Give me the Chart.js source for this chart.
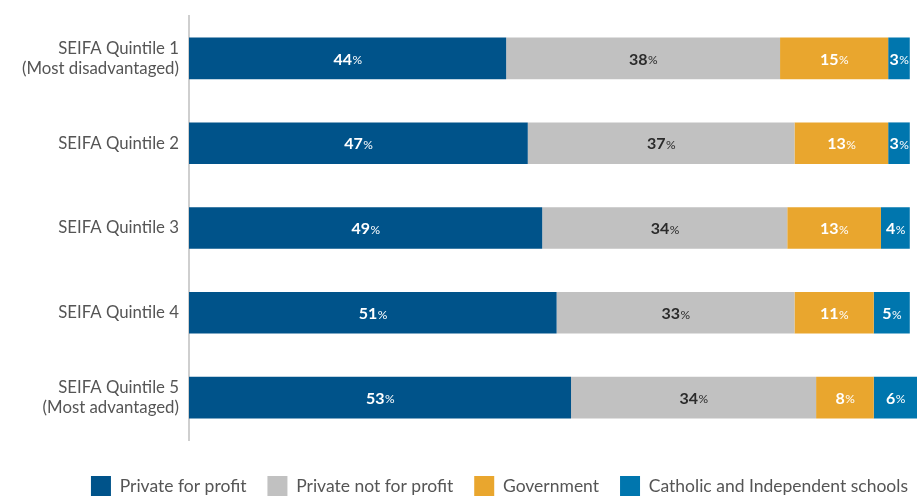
<!DOCTYPE html>
<html>
<head>
<meta charset="utf-8">
<script src="https://cdn.jsdelivr.net/npm/chart.js@4"></script>
<style>
  html, body { margin: 0; padding: 0; background: #fff; overflow: hidden; }
  #wrap { width: 918px; height: 496px; overflow: hidden; }
</style>
</head>
<body>
<div id="wrap"><canvas id="chart" width="918" height="506"></canvas></div>
<script>
// categories (y axis)
const categories = [
  ['SEIFA Quintile 1', '(Most disadvantaged)'],
  'SEIFA Quintile 2',
  'SEIFA Quintile 3',
  'SEIFA Quintile 4',
  ['SEIFA Quintile 5', '(Most advantaged)']
];

// series values (%)
const privateForProfit = [44, 47, 49, 51, 53];
const privateNotForProfit = [38, 37, 34, 33, 34];
const government = [15, 13, 13, 11, 8];
const catholicIndependent = [3, 3, 4, 5, 6];

const seriesNames = ['Private for profit', 'Private not for profit', 'Government', 'Catholic and Independent schools'];
const seriesColors = ['#00538a', '#c1c1c1', '#e9a62e', '#0076ae'];
const labelColors = ['#ffffff', '#2b2b2b', '#ffffff', '#ffffff'];

const FONT = 'Lato, "Open Sans", sans-serif';

// ========== SEGMENT LABELS ==========
const segmentLabels = {
  id: 'segmentLabels',
  afterDatasetsDraw(chart) {
    const ctx = chart.ctx;
    ctx.save();
    ctx.textBaseline = 'middle';
    ctx.textAlign = 'left';
    chart.data.datasets.forEach((ds, i) => {
      const meta = chart.getDatasetMeta(i);
      meta.data.forEach((bar, j) => {
        const num = String(ds.data[j]);
        const cx = (bar.x + bar.base) / 2;
        ctx.font = `bold 16px ${FONT}`;
        const w1 = ctx.measureText(num).width;
        ctx.font = `12px ${FONT}`;
        const w2 = ctx.measureText('%').width;
        const start = cx - (w1 + w2) / 2;
        ctx.fillStyle = labelColors[i];
        ctx.font = `bold 16px ${FONT}`;
        ctx.fillText(num, start, bar.y + 1);
        ctx.font = `12px ${FONT}`;
        ctx.fillText('%', start + w1 + 0.5, bar.y + 2);
      });
    });
    ctx.restore();
  }
};

// nudge the legend a bit right, like the original
const legendShift = {
  id: 'legendShift',
  afterLayout(chart) {
    chart.legend.left += 12;
    chart.legend.right += 12;
  }
};

const datasets = [privateForProfit, privateNotForProfit, government, catholicIndependent].map((d, i) => ({
  label: seriesNames[i],
  data: d,
  backgroundColor: seriesColors[i],
  borderWidth: 0,
  barPercentage: 0.98,
  categoryPercentage: 0.5
}));

new Chart(document.getElementById('chart'), {
  type: 'bar',
  data: { labels: categories, datasets },
  options: {
    indexAxis: 'y',
    responsive: false,
    animation: false,
    layout: { padding: { top: 16, right: 1, left: 0, bottom: 0 } },
    scales: {
      x: {
        stacked: true,
        min: 0,
        max: 101,
        grid: { display: false, drawTicks: false },
        border: { display: false },
        ticks: { display: false },
        afterFit(scale) { scale.height = 15; }
      },
      y: {
        stacked: true,
        grid: { display: false, drawTicks: false },
        border: { display: true, color: '#cfcfcf', width: 2 },
        ticks: {
          color: '#555555',
          font: { family: FONT, size: 16.8 },
          padding: 10
        },
        afterFit(scale) {
          scale.width = 189;
          scale.paddingTop = 0;
          scale.paddingBottom = 0;
        }
      }
    },
    plugins: {
      legend: {
        position: 'bottom',
        align: 'end',
        labels: {
          boxWidth: 20,
          boxHeight: 20,
          padding: 21,
          color: '#555555',
          font: { family: FONT, size: 17.5 }
        }
      },
      tooltip: { enabled: false }
    }
  },
  plugins: [segmentLabels, legendShift]
});
</script>
</body>
</html>
